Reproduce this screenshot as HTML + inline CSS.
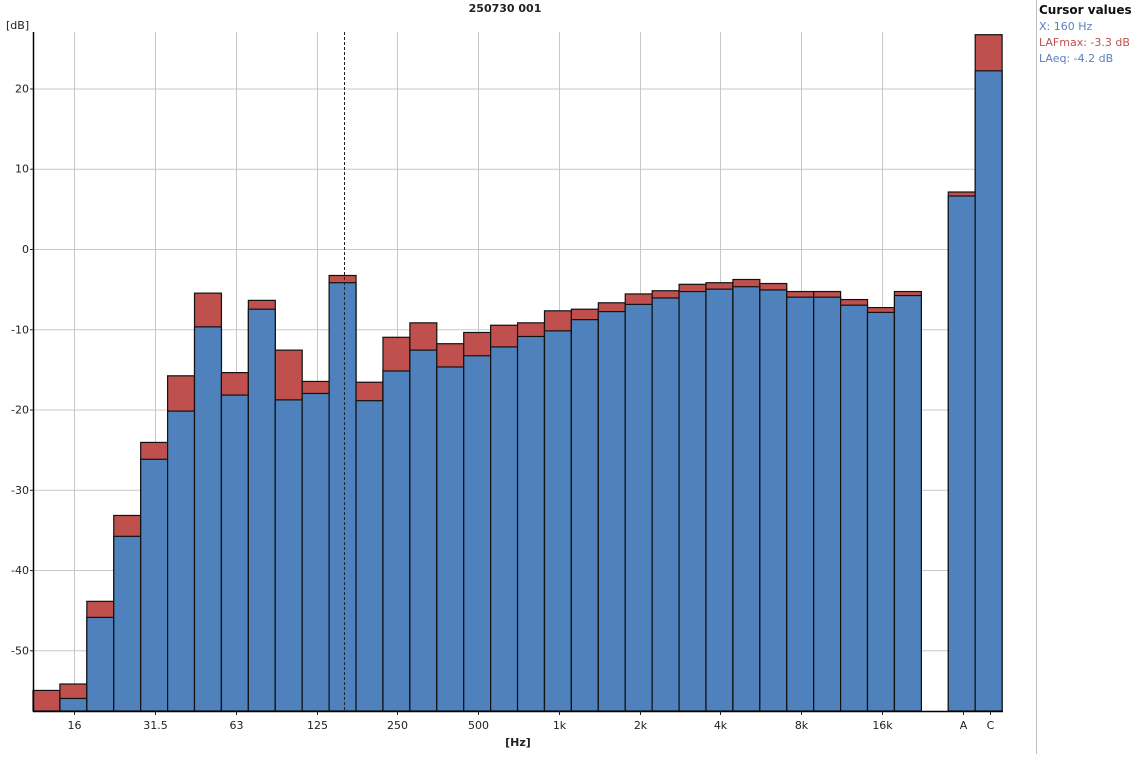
<!DOCTYPE html>
<html><head><meta charset="utf-8"><style>
body{margin:0;background:#fff;}
svg text{font-family:"DejaVu Sans","Liberation Sans",sans-serif;}
</style></head><body>
<svg width="1143" height="754" viewBox="0 0 1143 754" xmlns="http://www.w3.org/2000/svg">
<rect width="1143" height="754" fill="#fff"/>
<text x="505" y="12" font-size="11" font-weight="bold" text-anchor="middle" fill="#222">250730 001</text>
<text x="6" y="29" font-size="11" fill="#222">[dB]</text>
<g id="grid" stroke="#c8c8c8" stroke-width="1"></g>
<g id="bars"></g>
<line x1="344.5" y1="32" x2="344.5" y2="711" stroke="#222" stroke-width="1" stroke-dasharray="3,2"/>
<line x1="33.5" y1="32" x2="33.5" y2="711" stroke="#000" stroke-width="1.5"/>
<line x1="33" y1="711.5" x2="1003" y2="711.5" stroke="#000" stroke-width="1.5"/>
<g id="ylab" font-size="11" fill="#222" text-anchor="end"></g>
<g id="xlab" font-size="11" fill="#222" text-anchor="middle"></g>
<text x="518" y="746" font-size="11" font-weight="bold" text-anchor="middle" fill="#222">[Hz]</text>
<line x1="1036.5" y1="0" x2="1036.5" y2="754" stroke="#c0c0c0"/>
<text x="1039" y="14" font-size="12" font-weight="bold" fill="#111">Cursor values</text>
<text x="1039" y="30" font-size="11" fill="#5b7fbf">X: 160 Hz</text>
<text x="1039" y="46" font-size="11" fill="#c0504d">LAFmax: -3.3 dB</text>
<text x="1039" y="62" font-size="11" fill="#5b7fbf">LAeq: -4.2 dB</text>
</svg>
<script>
const NS="http://www.w3.org/2000/svg";
function el(p,t,a,txt){const e=document.createElementNS(NS,t);for(const k in a)e.setAttribute(k,a[k]);if(txt!==undefined)e.textContent=txt;document.getElementById(p).appendChild(e);}
const y=v=>249.0-v*8.026, W=26.92, L=33;
for(let v=20;v>=-50;v-=10){el('grid','line',{x1:33,x2:1003,y1:y(v)+.5,y2:y(v)+.5});el('ylab','line',{x1:30,x2:33,y1:y(v)+.5,y2:y(v)+.5,stroke:'#222'});el('ylab','text',{x:29,y:y(v)+4},v);}
const labs=[[1,'16'],[4,'31.5'],[7,'63'],[10,'125'],[13,'250'],[16,'500'],[19,'1k'],[22,'2k'],[25,'4k'],[28,'8k'],[31,'16k'],[34,'A'],[35,'C']];
labs.forEach(([i,t])=>{const cx=Math.round(L+W*(i+0.5)+1)+.5;if(i<34)el('grid','line',{x1:cx,x2:cx,y1:32,y2:711});el('xlab','line',{x1:cx,x2:cx,y1:711,y2:715,stroke:'#222'});el('xlab','text',{x:cx,y:729},t);});
const d=[[-60,-55],[-56.0,-54.2],[-45.9,-43.9],[-35.8,-33.2],[-26.2,-24.1],[-20.2,-15.8],[-9.7,-5.5],[-18.2,-15.4],[-7.5,-6.4],[-18.8,-12.6],[-18,-16.5],[-4.2,-3.3],[-18.9,-16.6],[-15.2,-11],[-12.6,-9.2],[-14.7,-11.8],[-13.3,-10.4],[-12.2,-9.5],[-10.9,-9.2],[-10.2,-7.7],[-8.8,-7.5],[-7.8,-6.7],[-6.9,-5.6],[-6.1,-5.2],[-5.3,-4.4],[-5.0,-4.2],[-4.7,-3.8],[-5.1,-4.3],[-6.0,-5.3],[-6.0,-5.3],[-7.0,-6.3],[-7.9,-7.3],[-5.8,-5.3],null,[6.6,7.1],[22.2,26.7]];
d.forEach((b,i)=>{if(!b)return;const x=L+W*i,yr=y(b[1]),yb=Math.min(y(b[0]),711);
el('bars','rect',{x:x,y:yr,width:W,height:711-yr,fill:'#c0504d',stroke:'#111','stroke-width':1.2});
if(yb<711)el('bars','rect',{x:x,y:yb,width:W,height:711-yb,fill:'#4f81bd',stroke:'#111','stroke-width':1.2});});
</script>
</body></html>
